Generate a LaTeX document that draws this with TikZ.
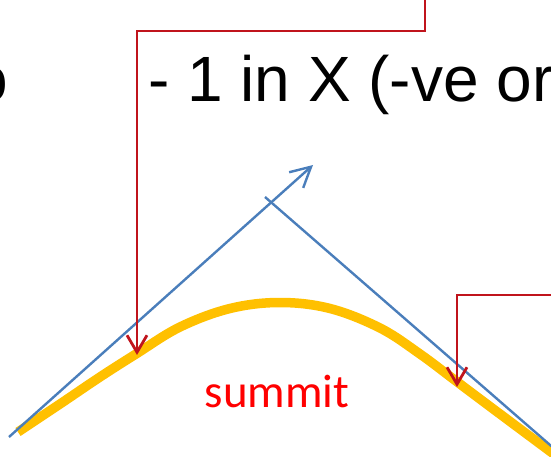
\documentclass[tikz,border=0pt]{standalone}
\usepackage{fontspec}
\setmainfont{Liberation Sans}
\newfontfamily\calib{Carlito}
\usetikzlibrary{arrows.meta}
\definecolor{redline}{HTML}{C0141C}
\definecolor{blueline}{HTML}{4A7EBB}
\definecolor{goldline}{HTML}{FFC000}
\definecolor{summitred}{HTML}{FF0000}
\tikzset{
  redconn/.style={draw=redline, line width=2.8pt, -{Straight Barb[length=17pt,width=20pt,line width=2.8pt]}},
  blueconn/.style={draw=blueline, line width=2.4pt},
  bigtext/.style={font=\fontsize{64}{77}\selectfont, inner sep=0pt, text=black},
  summittext/.style={font=\calib\fontsize{47}{56}\selectfont, inner sep=0pt, text=summitred}
}
\begin{document}
\begin{tikzpicture}[x=1pt,y=-1pt]
\useasboundingbox (0,0) rectangle (551,457);
\clip (0,0) rectangle (551,457);
% texts
\node[bigtext, anchor=base east] (lefto) at (8.5,102) {o};
\node[bigtext, anchor=base west] (title) at (148,102) {- 1 in X (-ve or};
\node[summittext, anchor=base] (summit) at (277,407) {summit};
% yellow curve
\draw[goldline, line width=9.5pt]
  plot[smooth, tension=0.6] coordinates {(18,432) (60,404) (100,377) (136,354) (180,327) (230,308.5) (280,302.5) (330,308.5) (380,328) (420,354) (456,381) (500,414) (551,452) (570,466)};
% blue lines
\coordinate (b1s) at (9,437);
\coordinate (b1e) at (313,165);
\coordinate (b2s) at (265,197);
\coordinate (b2e) at (565,458);
\draw[blueconn, -{Straight Barb[length=20pt,width=21pt,line width=2.4pt]}] (b1s) -- (b1e);
\draw[blueconn] (b2s) -- (b2e);
% red connectors
\coordinate (r1a) at (425,-5);
\coordinate (r1b) at (425,31);
\coordinate (r1c) at (137,31);
\coordinate (r1t) at (137,355);
\draw[redconn] (r1a) -- (r1b) -- (r1c) -- (r1t);
\coordinate (r2a) at (565,295);
\coordinate (r2b) at (457,295);
\coordinate (r2t) at (457,387);
\draw[redconn] (r2a) -- (r2b) -- (r2t);
\end{tikzpicture}
\end{document}
